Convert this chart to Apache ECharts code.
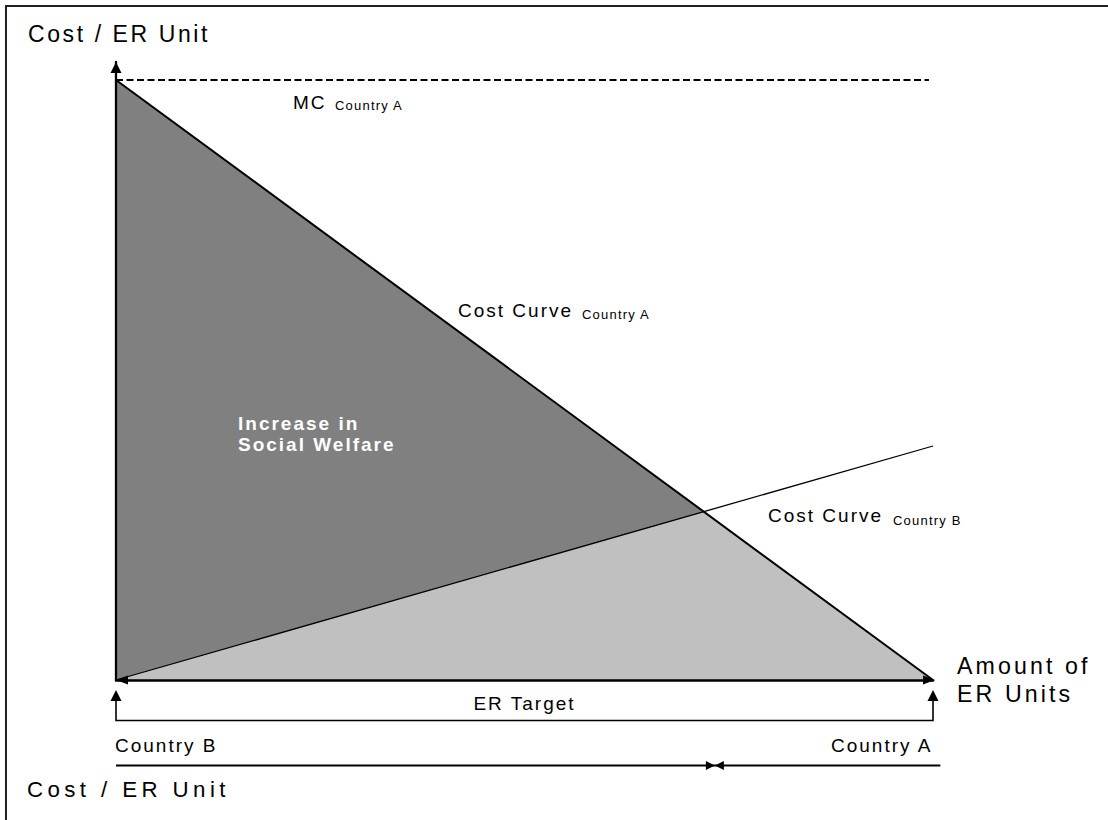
<!DOCTYPE html>
<html>
<head>
<meta charset="utf-8">
<script src="https://cdn.jsdelivr.net/npm/echarts@6/dist/echarts.min.js"></script>
<style>
html, body { margin: 0; padding: 0; background: #fff; }
#c { width: 1108px; height: 820px; }
#c text[style*="23px"] { letter-spacing: 2.6px; }
#c text[style*="23.2px"] { letter-spacing: 3.1px; }
#c text[style*="22.3px"] { letter-spacing: 4.4px; }
#c text[style*="19px"] { letter-spacing: 2px; }
#c text[style*="13px"] { letter-spacing: 1.2px; }
</style>
</head>
<body>
<div id="c"></div>
<script>
// ---- data ----
const xDomain = [0, 100];          // amount of ER units
const yDomain = [0, 103];          // cost / ER unit
const mcCountryA = [[0, 100], [99.5, 100]];
const costCurveA = [[0, 100], [100, 0]];
const costCurveB = [[0, 0], [100, 39]];
const erTargetSpan = [0, 100];
const countrySplit = [0, 73.3, 100.9];   // Country B start, split, Country A end
const axisTitles = ['Cost / ER Unit', 'Amount of\nER Units'];
const curveLabels = ['MC', 'Cost Curve', 'Cost Curve'];
const curveSubLabels = ['Country A', 'Country A', 'Country B'];
const areaLabel = ['Increase in', 'Social Welfare'];
const bottomLabels = ['ER Target', 'Country B', 'Country A', 'Cost / ER Unit'];

// intersection of the two cost curves (vertex of the light area)
function intersect(a, b) {
  const [[x1, y1], [x2, y2]] = a, [[x3, y3], [x4, y4]] = b;
  const d = (x1 - x2) * (y3 - y4) - (y1 - y2) * (x3 - x4);
  const t = ((x1 - x3) * (y3 - y4) - (y1 - y3) * (x3 - x4)) / d;
  return [x1 + t * (x2 - x1), y1 + t * (y2 - y1)];
}
const cross = intersect(costCurveA, costCurveB);
const lightArea = [costCurveB[0], cross, costCurveA[1]];

const FONT = '"Liberation Sans", Arial, sans-serif';
const chart = echarts.init(document.getElementById('c'), null, { renderer: 'svg' });

chart.setOption({
  animation: false,
  backgroundColor: '#fff',
  grid: { left: 116, right: 175, top: 62, bottom: 140, outerBoundsMode: 'none' },
  xAxis: {
    type: 'value', min: xDomain[0], max: xDomain[1], z: 10,
    axisLine: { show: true, onZero: false, symbol: ['triangle', 'triangle'], symbolSize: [9, 12], symbolOffset: [6, -4],
      lineStyle: { color: '#000', width: 2.5 } },
    axisTick: { show: false }, axisLabel: { show: false }, splitLine: { show: false },
    name: axisTitles[1], nameLocation: 'end', nameGap: 24,
    nameTextStyle: { fontFamily: FONT, fontSize: 23.2, color: '#000', lineHeight: 28, align: 'left', verticalAlign: 'middle', padding: [8, 0, 0, 0] }
  },
  yAxis: {
    type: 'value', min: yDomain[0], max: yDomain[1], z: 10,
    axisLine: { show: true, onZero: false, symbol: ['none', 'triangle'], symbolSize: [11, 11], symbolOffset: [0, -5.5],
      lineStyle: { color: '#000', width: 2.3 } },
    axisTick: { show: false }, axisLabel: { show: false }, splitLine: { show: false },
    name: axisTitles[0], nameLocation: 'end', nameGap: 28.5,
    nameTextStyle: { fontFamily: FONT, fontSize: 23, color: '#000', align: 'center', verticalAlign: 'middle', padding: [0, 0, 0, 6] }
  },
  series: [
    { type: 'line', data: costCurveA, symbol: 'none', silent: true, z: 1,
      lineStyle: { width: 0, opacity: 0 }, areaStyle: { color: '#808080', opacity: 1 } },
    { type: 'line', data: lightArea, symbol: 'none', silent: true, z: 1,
      lineStyle: { width: 0, opacity: 0 }, areaStyle: { color: '#c0c0c0', opacity: 1 } },
    { type: 'line', name: 'MC Country A', data: mcCountryA, symbol: 'none', silent: true,
      lineStyle: { color: '#000', width: 2, type: [7, 3.5] } },
    { type: 'line', name: 'Cost Curve Country B', data: costCurveB, symbol: 'none', silent: true,
      lineStyle: { color: '#000', width: 1.3 } },
    { type: 'line', name: 'Cost Curve Country A', data: costCurveA, symbol: 'none', silent: true,
      lineStyle: { color: '#000', width: 2 } }
  ]
});

const px = v => chart.convertToPixel({ xAxisIndex: 0 }, v);
const t0 = px(erTargetSpan[0]), t1 = px(erTargetSpan[1]);
const c0 = px(countrySplit[0]), cs = px(countrySplit[1]), c1 = px(countrySplit[2]);

function txt(text, x, y, size, opts) {
  return Object.assign({ type: 'text', silent: true, z: 100,
    style: Object.assign({ text: text, x: x, y: y, fontSize: size, fontFamily: FONT, fill: '#000',
      align: 'left', verticalAlign: 'middle' }, opts || {}) });
}
const yBr = 720.5, yTip = 690, yLine = 765.5;

chart.setOption({
  graphic: [
    { type: 'rect', silent: true, z: 0, shape: { x: 6, y: 6, width: 1300, height: 1000 },
      style: { fill: 'none', stroke: '#222', lineWidth: 2 } },
    // ER target bracket
    { type: 'polyline', silent: true, z: 50, shape: { points: [[t0, 700], [t0, yBr], [t1, yBr], [t1, 700]] },
      style: { stroke: '#000', lineWidth: 1.6, fill: null } },
    { type: 'polygon', silent: true, z: 50, shape: { points: [[t0 - 5.5, 701], [t0, yTip], [t0 + 5.5, 701]] }, style: { fill: '#000' } },
    { type: 'polygon', silent: true, z: 50, shape: { points: [[t1 - 5.5, 701], [t1, yTip], [t1 + 5.5, 701]] }, style: { fill: '#000' } },
    // country split line
    { type: 'line', silent: true, z: 50, shape: { x1: c0, y1: yLine, x2: c1, y2: yLine }, style: { stroke: '#000', lineWidth: 2 } },
    { type: 'polygon', silent: true, z: 50, shape: { points: [[cs - 9, yLine - 4.5], [cs, yLine], [cs - 9, yLine + 4.5]] }, style: { fill: '#000' } },
    { type: 'polygon', silent: true, z: 50, shape: { points: [[cs + 9, yLine - 4.5], [cs, yLine], [cs + 9, yLine + 4.5]] }, style: { fill: '#000' } },
    // curve labels
    txt(curveLabels[0], 293, 102.5, 19),
    txt(curveSubLabels[0], 335, 105, 13),
    txt(curveLabels[1], 458, 310, 19),
    txt(curveSubLabels[1], 582, 314.5, 13),
    txt(curveLabels[2], 768, 515.5, 19),
    txt(curveSubLabels[2], 893, 520.5, 13),
    txt(areaLabel[0], 238, 423, 19, { fill: '#fff', fontWeight: 'bold' }),
    txt(areaLabel[1], 238, 444.5, 19, { fill: '#fff', fontWeight: 'bold' }),
    // bottom labels
    txt(bottomLabels[0], (t0 + t1) / 2, 703, 19, { align: 'center' }),
    txt(bottomLabels[1], 115, 745, 19),
    txt(bottomLabels[2], 831, 745, 19),
    txt(bottomLabels[3], 27, 789, 22.3)
  ]
});
</script>
</body>
</html>
